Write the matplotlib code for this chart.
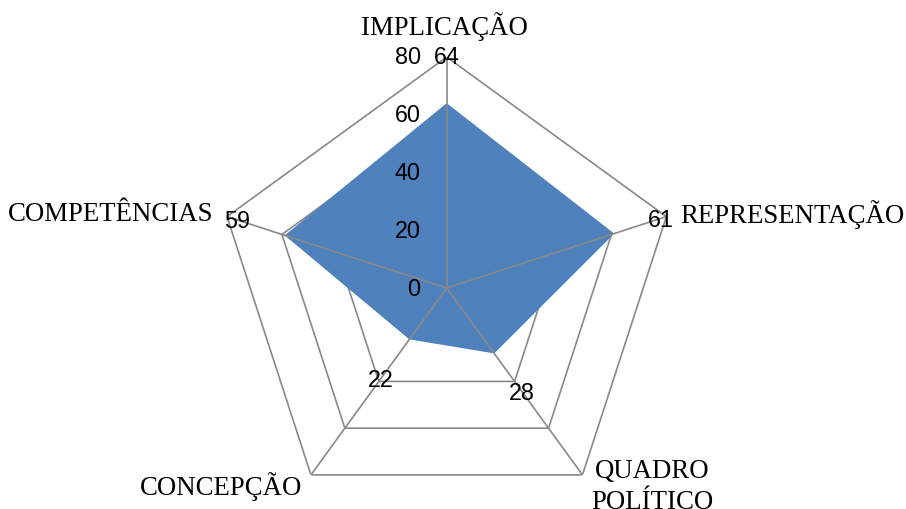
import matplotlib.pyplot as plt
import numpy as np

categories = ['IMPLICAÇÃO', 'REPRESENTAÇÃO', 'QUADRO\nPOLÍTICO', 'CONCEPÇÃO', 'COMPETÊNCIAS']
values = [64, 61, 28, 22, 59]
ring_levels = [0, 20, 40, 60, 80]
rmax = 80

fill_color = '#4F81BD'
grid_color = '#898989'

fig = plt.figure(figsize=(9.06, 5.10), dpi=100)
# center at (446.7, 289) px, radius 231 px
ax = fig.add_axes([215.7 / 906, -10 / 510, 462 / 906, 462 / 510], projection='polar')
ax.set_theta_offset(np.pi / 2)
ax.set_theta_direction(-1)
ax.set_ylim(0, rmax)
ax.grid(False)
ax.spines['polar'].set_visible(False)
ax.set_xticks([])
ax.set_yticks([])
ax.patch.set_alpha(0)

n = len(categories)
theta = np.arange(n) * 2 * np.pi / n
theta_c = np.append(theta, theta[0])

# pentagon rings (under the fill)
for r in ring_levels[1:]:
    ax.plot(theta_c, [r] * (n + 1), color=grid_color, lw=1.2, zorder=1)

# data polygon
vals_c = np.append(values, values[0])
ax.fill(theta_c, vals_c, color=fill_color, zorder=2, lw=0)

# spokes drawn over the fill
for t in theta:
    ax.plot([t, t], [0, rmax], color=grid_color, lw=1.2, zorder=3)

num_font = 'Liberation Sans'
cat_font = 'Liberation Serif'

# radial tick labels
for r in ring_levels:
    ax.annotate(str(r), xy=(0, r), xytext=(-26, 0), textcoords='offset pixels',
                ha='right', va='center', fontsize=16.8, family=num_font, zorder=5)

# data labels (positions as placed in the original)
lab_r = [80, 80, 40, 40, 80]
lab_off = [(0, 1), (-6, -3), (7, -11), (2, 2), (10, -4)]
for t, v, r, off in zip(theta, values, lab_r, lab_off):
    ax.annotate(str(v), xy=(t, r), xytext=off, textcoords='offset pixels',
                ha='center', va='center', fontsize=16.8, family=num_font, zorder=5)

# category labels
cat_off = [(-2, 31), (14, 3), (70, 17), (-9, -11), (-14, 3)]
cat_ha = ['center', 'left', 'center', 'right', 'right']
cat_va = ['center', 'center', 'top', 'center', 'center']
for t, c, off, ha, va in zip(theta, categories, cat_off, cat_ha, cat_va):
    ax.annotate(c, xy=(t, rmax), xytext=off, textcoords='offset pixels',
                ha=ha, va=va, fontsize=19.3, family=cat_font, linespacing=1.3)

fig.savefig('out.png', dpi=100)
